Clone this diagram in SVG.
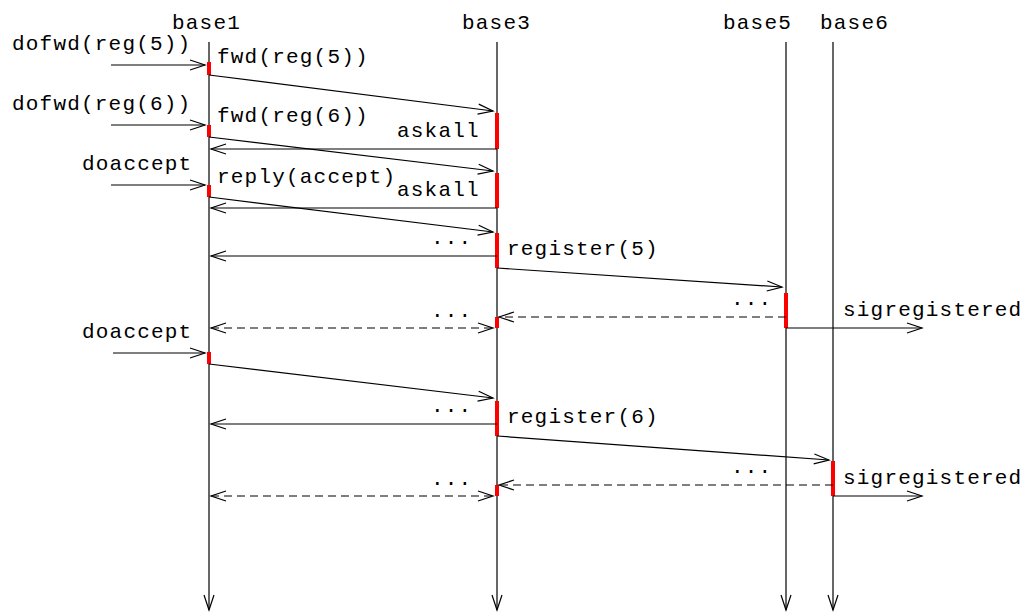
<svg xmlns="http://www.w3.org/2000/svg" width="1030" height="613" viewBox="0 0 1030 613">
<style>
text{font-family:"Liberation Mono","DejaVu Sans Mono",monospace;font-size:21px;letter-spacing:1.2px;fill:#000}
.l{stroke:#000;stroke-width:1.2;fill:none}
.d{stroke-dasharray:8 5}
.a{marker-end:url(#arr)}
.b{marker-start:url(#arrs);marker-end:url(#arr)}
.act{fill:#ff0000}
</style>
<defs>
<marker id="arr" markerUnits="userSpaceOnUse" markerWidth="18" markerHeight="14" viewBox="-16 -7 18 14" refX="0" refY="0" orient="auto"><path d="M-15,-5 L0,0 L-15,5" fill="none" stroke="#000" stroke-width="1.2"/></marker>
<marker id="arrs" markerUnits="userSpaceOnUse" markerWidth="18" markerHeight="14" viewBox="-16 -7 18 14" refX="0" refY="0" orient="auto-start-reverse"><path d="M-15,-5 L0,0 L-15,5" fill="none" stroke="#000" stroke-width="1.2"/></marker>
</defs>
<rect width="1030" height="613" fill="#fff"/>
<g id="base1"><text x="172" y="29">base1</text><line class="l a" x1="209" y1="42" x2="209" y2="610"/></g>
<g id="base3"><text x="462" y="29">base3</text><line class="l a" x1="497" y1="42" x2="497" y2="610"/></g>
<g id="base5"><text x="723" y="29">base5</text><line class="l a" x1="786" y1="42" x2="786" y2="610"/></g>
<g id="base6"><text x="820" y="29">base6</text><line class="l a" x1="833" y1="42" x2="833" y2="610"/></g>
<g id="activations">
<rect class="act" x="207" y="62" width="4" height="13"/>
<rect class="act" x="207" y="125" width="4" height="12"/>
<rect class="act" x="207" y="185" width="4" height="12"/>
<rect class="act" x="207" y="352" width="4" height="12"/>
<rect class="act" x="495" y="113" width="4" height="36"/>
<rect class="act" x="495" y="173" width="4" height="35"/>
<rect class="act" x="495" y="233" width="4" height="35"/>
<rect class="act" x="495" y="317" width="4" height="11"/>
<rect class="act" x="495" y="401" width="4" height="35"/>
<rect class="act" x="495" y="485" width="4" height="11"/>
<rect class="act" x="784" y="293" width="4" height="35"/>
<rect class="act" x="831" y="461" width="4" height="35"/>
</g>
<g id="connectors">
<line class="l a" x1="111" y1="65" x2="205" y2="65"/>
<line class="l a" x1="209" y1="75" x2="493" y2="111"/>
<line class="l a" x1="111" y1="125" x2="205" y2="125"/>
<line class="l a" x1="497" y1="149" x2="211" y2="149"/>
<line class="l a" x1="209" y1="137" x2="493" y2="171"/>
<line class="l a" x1="111" y1="185" x2="205" y2="185"/>
<line class="l a" x1="497" y1="208" x2="211" y2="208"/>
<line class="l a" x1="209" y1="197" x2="493" y2="232"/>
<line class="l a" x1="497" y1="256" x2="211" y2="256"/>
<line class="l a" x1="497" y1="268" x2="782" y2="287"/>
<line class="l d a" x1="786" y1="317" x2="499" y2="317"/>
<line class="l a" x1="786" y1="328" x2="922" y2="328"/>
<line class="l d b" x1="211" y1="328" x2="493" y2="328"/>
<line class="l a" x1="113" y1="353" x2="205" y2="353"/>
<line class="l a" x1="209" y1="364" x2="493" y2="398"/>
<line class="l a" x1="497" y1="424" x2="211" y2="424"/>
<line class="l a" x1="497" y1="436" x2="829" y2="460"/>
<line class="l d a" x1="833" y1="485" x2="499" y2="485"/>
<line class="l a" x1="833" y1="496" x2="922" y2="496"/>
<line class="l d b" x1="211" y1="496" x2="493" y2="496"/>
</g>
<g id="labels">
<text x="12" y="50">dofwd(reg(5))</text>
<text x="217" y="63">fwd(reg(5))</text>
<text x="12" y="110">dofwd(reg(6))</text>
<text x="217" y="122">fwd(reg(6))</text>
<text x="397" y="137">askall</text>
<text x="82" y="170">doaccept</text>
<text x="217" y="183">reply(accept)</text>
<text x="397" y="196">askall</text>
<text x="431" y="244">...</text>
<text x="507" y="255">register(5)</text>
<text x="731" y="305">...</text>
<text x="843" y="316">sigregistered</text>
<text x="431" y="317">...</text>
<text x="82" y="338">doaccept</text>
<text x="431" y="412">...</text>
<text x="507" y="423">register(6)</text>
<text x="731" y="473">...</text>
<text x="843" y="484">sigregistered</text>
<text x="431" y="485">...</text>
</g>
</svg>
